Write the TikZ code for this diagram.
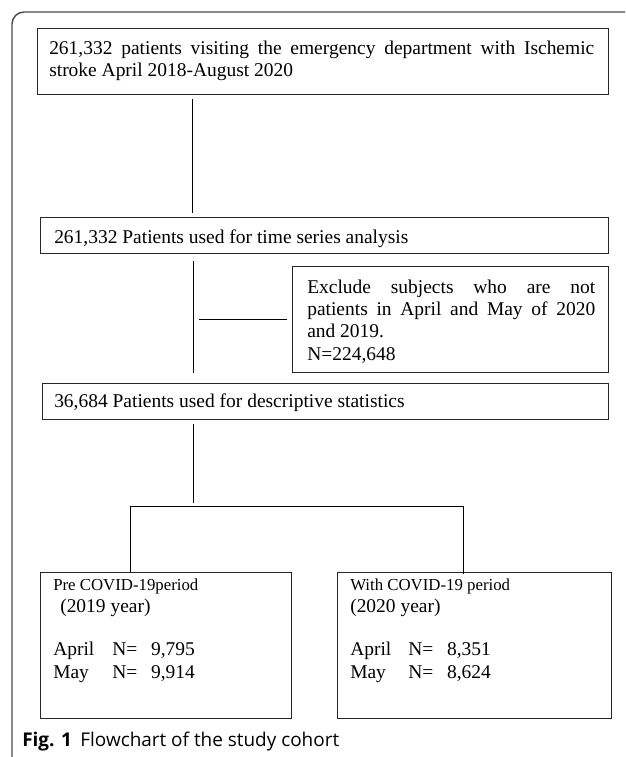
\documentclass[tikz,border=0pt]{standalone}
\usepackage{fontspec}
\setmainfont{Liberation Serif}
\newfontfamily\capfont{Open Sans}
\begin{document}
\begin{tikzpicture}[x=0.75pt,y=-0.75pt,
  box/.style={draw=black!85, line width=0.95pt, inner sep=0pt, anchor=north west},
  conn/.style={draw=black, line width=0.7pt},
  txt/.style={inner sep=0pt, anchor=base west, font=\fontsize{14.6pt}{17pt}\selectfont},
  smalltxt/.style={inner sep=0pt, anchor=base west, font=\fontsize{12.6pt}{15pt}\selectfont},
  captxt/.style={inner sep=0pt, anchor=base west, font=\capfont\fontsize{14.2pt}{17pt}\selectfont}]
\useasboundingbox (0,0) rectangle (625,757);
% outer frame
\draw[black!70, line width=1.1pt, rounded corners=9pt] (12,757) -- (12,12) -- (625,12);
% boxes
\node[box, minimum width=428.25pt, minimum height=49.5pt] (b1) at (37,28) {};
\node[box, minimum width=426pt, minimum height=27pt] (b2) at (40,217) {};
\node[box, minimum width=237pt, minimum height=79.5pt] (ex) at (292,266) {};
\node[box, minimum width=424.5pt, minimum height=27pt] (b3) at (42,383) {};
\node[box, minimum width=188.25pt, minimum height=109.5pt] (bl) at (40,572) {};
\node[box, minimum width=205.5pt, minimum height=109.5pt] (br) at (337,572) {};
% connector columns
\coordinate (x1) at (192,0);
\coordinate (x2) at (193,0);
\coordinate (j) at (193,506);
\coordinate (hl) at (130,506);
\coordinate (hr) at (463,506);
\draw[conn, shorten <=3pt, shorten >=3pt] (b1.south -| x1) -- (b2.north -| x1);
\draw[conn, shorten <=5.25pt, shorten >=7.5pt] (b2.south -| x2) -- (b3.north -| x2);
\draw[conn, shorten <=4.5pt, shorten >=3.75pt] (ex.west -| x2) -- (ex.west);
\draw[conn, shorten <=3pt, shorten >=2pt] (b3.south -| x2) -- (j);
\draw[conn] (bl.north -| hl) -- (hl) -- (hr) -- ([yshift=-1.5pt]br.north -| hr);
% texts
\node[txt] (t1a) at (49,54) {\makebox[408.75pt][s]{261,332 patients visiting the emergency department with Ischemic}};
\node[txt] (t1b) at (49,76) {stroke April 2018-August 2020};
\node[txt] (t2) at (54,243) {261,332 Patients used for time series analysis};
\node[txt] (e1) at (307,293) {\makebox[216pt][s]{Exclude subjects who are not}};
\node[txt] (e2) at (307,315) {\makebox[216pt][s]{patients in April and May of 2020}};
\node[txt] (e3) at (307,337) {and 2019.};
\node[txt] (e4) at (307,360) {N=224,648};
\node[txt] (t3) at (54,407) {36,684 Patients used for descriptive statistics};
\node[smalltxt] (l1) at (53,590) {Pre COVID-19period};
\node[txt] (l2) at (60,612) {(2019 year)};
\node[txt] (l3) at (53,655) {April};
\node[txt] (l3n) at (112,655) {\makebox[62pt][s]{N= \ 9,795}};
\node[txt] (l4) at (53,678) {May};
\node[txt] (l4n) at (112,678) {\makebox[62pt][s]{N= \ 9,914}};
\node[smalltxt] (r1) at (350,590) {With COVID-19 period};
\node[txt] (r2) at (350,612) {(2020 year)};
\node[txt] (r3) at (350,655) {April};
\node[txt] (r3n) at (408,655) {\makebox[62pt][s]{N= \ 8,351}};
\node[txt] (r4) at (350,678) {May};
\node[txt] (r4n) at (408,678) {\makebox[62pt][s]{N= \ 8,624}};
\node[captxt] (cap) at (22,746) {{\bfseries Fig. 1}\hspace{0.45em}Flowchart of the study cohort};
\end{tikzpicture}
\end{document}
